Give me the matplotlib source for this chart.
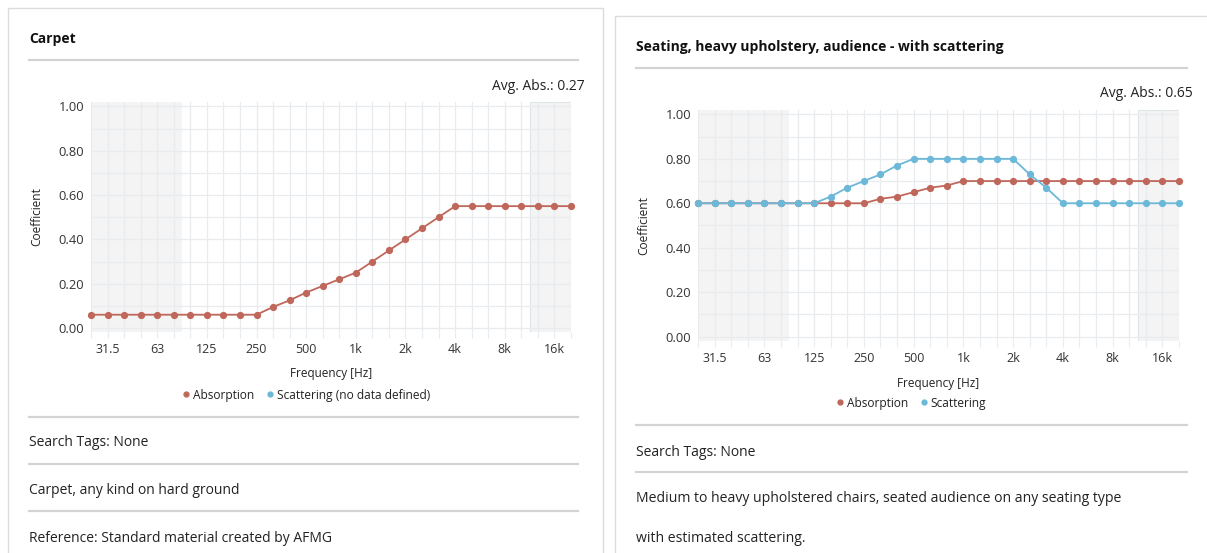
import matplotlib
matplotlib.use("Agg")
import matplotlib.pyplot as plt
from matplotlib.patches import Rectangle
from matplotlib.lines import Line2D

W, H = 1207, 553
plt.rcParams['font.family'] = ['Open Sans', 'DejaVu Sans']

# ---- data ----
freq_labels = ['25', '31.5', '40', '50', '63', '80', '100', '125', '160', '200', '250',
               '315', '400', '500', '630', '800', '1k', '1.25k', '1.6k', '2k', '2.5k',
               '3.15k', '4k', '5k', '6.3k', '8k', '10k', '12.5k', '16k', '20k']
shown_ticks = ['31.5', '63', '125', '250', '500', '1k', '2k', '4k', '8k', '16k']
y_ticks = [0.0, 0.2, 0.4, 0.6, 0.8, 1.0]

carpet_abs = [0.06, 0.06, 0.06, 0.06, 0.06, 0.06, 0.06, 0.06, 0.06, 0.06, 0.06,
              0.095, 0.125, 0.16, 0.19, 0.22, 0.25, 0.30, 0.35, 0.40, 0.45,
              0.50, 0.55, 0.55, 0.55, 0.55, 0.55, 0.55, 0.55, 0.55]
seat_abs = [0.60, 0.60, 0.60, 0.60, 0.60, 0.60, 0.60, 0.60, 0.60, 0.60, 0.60,
            0.62, 0.63, 0.65, 0.67, 0.68, 0.70, 0.70, 0.70, 0.70, 0.70,
            0.70, 0.70, 0.70, 0.70, 0.70, 0.70, 0.70, 0.70, 0.70]
seat_scat = [0.60, 0.60, 0.60, 0.60, 0.60, 0.60, 0.60, 0.60, 0.63, 0.67, 0.70,
             0.73, 0.77, 0.80, 0.80, 0.80, 0.80, 0.80, 0.80, 0.80, 0.73,
             0.67, 0.60, 0.60, 0.60, 0.60, 0.60, 0.60, 0.60, 0.60]

RED = '#c0675b'
BLUE = '#6cb8d8'
GRID = '#e8ecef'
SHADE = '#f4f4f4'
SEP = '#d3d3d3'
TXT = '#222222'

fig = plt.figure(figsize=(W / 100, H / 100), dpi=100)


def fx(x):
    return x / W


def fy(y):
    return 1 - y / H


def hline(x0, x1, y, color=SEP, lw=1.6):
    fig.add_artist(Line2D([fx(x0), fx(x1)], [fy(y), fy(y)], color=color, lw=lw,
                          transform=fig.transFigure))


def card(x0, y0, x1, y1):
    fig.add_artist(Rectangle((fx(x0), fy(y1)), fx(x1) - fx(x0), fy(y0) - fy(y1),
                             transform=fig.transFigure, facecolor='white',
                             edgecolor='#dcdcdc', lw=1.0, zorder=0))


def chart(x0, x1, ytop, ybot, series, ylab_x):
    ax = fig.add_axes([fx(x0), fy(ybot), fx(x1) - fx(x0), fy(ytop) - fy(ybot)])
    n = len(freq_labels)
    idx = list(range(n))
    ax.set_xlim(0, n - 1)
    ax.set_ylim(-0.018, 1.02)
    ax.axvspan(0, 5.5, facecolor=SHADE, edgecolor='none', zorder=0)
    ax.axvspan(26.5, n - 1, facecolor=SHADE, edgecolor='#dfe4e8', lw=0.8, zorder=0)
    for i in idx:
        ax.axvline(i, color=GRID, lw=0.9, zorder=1)
    for k in range(11):
        ax.axhline(k / 10, color=GRID, lw=0.9, zorder=1)
    for vals, col in series:
        ax.plot(idx, vals, color=col, lw=1.3, marker='o', ms=4.2, zorder=3, clip_on=False)
    for s in ax.spines.values():
        s.set_visible(False)
    ax.set_xticks(idx)
    ax.set_xticklabels([l if l in shown_ticks else '' for l in freq_labels],
                       fontsize=9, color='#333333')
    ax.tick_params(axis='x', length=4, color=GRID, pad=4)
    ax.set_yticks(y_ticks)
    ax.set_yticklabels(['%.2f' % v for v in y_ticks], fontsize=9.3, color='#333333')
    ax.tick_params(axis='y', length=0, pad=5)
    fig.text(fx(ylab_x), fy((ytop + ybot) / 2), 'Coefficient', rotation=90,
             ha='left', va='center', fontsize=8.6, color=TXT)
    return ax


# ---- left card ----
card(8, 8, 603, 600)
fig.text(fx(29), fy(39), 'Carpet', fontsize=10, fontweight='bold', color='#111111',
         va='center', ha='left')
hline(29, 578, 60)
fig.text(fx(585), fy(86.5), 'Avg. Abs.: 0.27', fontsize=10, color=TXT, ha='right', va='center')
chart(91, 571, 102, 332, [(carpet_abs, RED)], 30)
fig.text(fx(331), fy(374), 'Frequency [Hz]', fontsize=8.5, color=TXT, ha='center', va='center')
fig.legend(handles=[Line2D([], [], ls='', marker='o', ms=3.5, color=RED),
                    Line2D([], [], ls='', marker='o', ms=3.5, color=BLUE)],
           labels=['Absorption', 'Scattering (no data defined)'],
           loc='center', bbox_to_anchor=(fx(305), fy(395)), ncol=2, frameon=False,
           fontsize=8.6, handletextpad=0.1, columnspacing=0.8, handlelength=1.0,
           labelcolor=TXT)
hline(29, 578, 417)
fig.text(fx(29), fy(443), 'Search Tags: None', fontsize=10, color=TXT, va='center')
hline(29, 578, 464)
fig.text(fx(29), fy(491), 'Carpet, any kind on hard ground', fontsize=10, color=TXT, va='center')
hline(29, 578, 511)
fig.text(fx(29), fy(538), 'Reference: Standard material created by AFMG', fontsize=10,
         color=TXT, va='center')

# ---- right card ----
card(615, 16, 1250, 600)
fig.text(fx(636), fy(47), 'Seating, heavy upholstery, audience - with scattering',
         fontsize=10, fontweight='bold', color='#111111', va='center', ha='left')
hline(636, 1187, 68)
fig.text(fx(1193), fy(93.5), 'Avg. Abs.: 0.65', fontsize=10, color=TXT, ha='right', va='center')
chart(698, 1179, 110, 340.5, [(seat_abs, RED), (seat_scat, BLUE)], 637)
fig.text(fx(938), fy(383), 'Frequency [Hz]', fontsize=8.5, color=TXT, ha='center', va='center')
fig.legend(handles=[Line2D([], [], ls='', marker='o', ms=3.5, color=RED),
                    Line2D([], [], ls='', marker='o', ms=3.5, color=BLUE)],
           labels=['Absorption', 'Scattering'],
           loc='center', bbox_to_anchor=(fx(910), fy(403)), ncol=2, frameon=False,
           fontsize=8.6, handletextpad=0.1, columnspacing=0.8, handlelength=1.0,
           labelcolor=TXT)
hline(636, 1187, 425)
fig.text(fx(636), fy(452), 'Search Tags: None', fontsize=10, color=TXT, va='center')
hline(636, 1187, 472)
fig.text(fx(636), fy(499), 'Medium to heavy upholstered chairs, seated audience on any seating type',
         fontsize=10.1, color=TXT, va='center')
fig.text(fx(636), fy(539), 'with estimated scattering.', fontsize=10.1, color=TXT, va='center')

fig.savefig('out.png', dpi=100, facecolor='white')
